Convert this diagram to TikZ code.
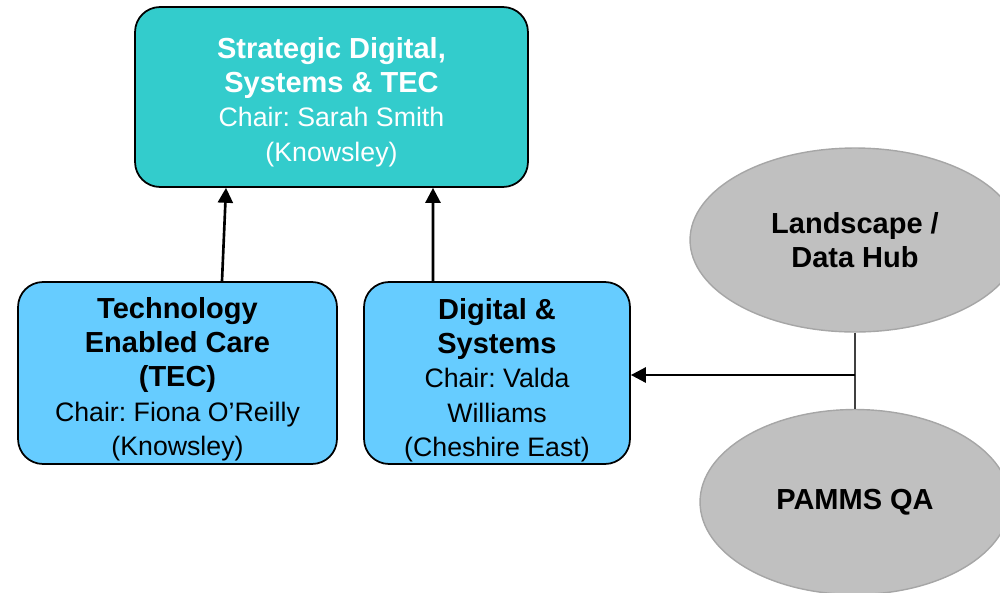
\documentclass[tikz,border=0pt]{standalone}
\usepackage{fontspec}
\setmainfont{Liberation Sans}
\usetikzlibrary{shapes.geometric,arrows.meta}
\definecolor{teal1}{HTML}{33CCCC}
\definecolor{sky1}{HTML}{66CCFF}
\definecolor{grey1}{HTML}{C0C0C0}
\definecolor{grey2}{HTML}{A6A6A6}
\definecolor{grey3}{HTML}{404040}
\newcommand{\bt}[1]{{\fontsize{16.5}{19.5}\selectfont\bfseries #1}}
\tikzset{
  box/.style={draw=black, line width=1pt, rounded corners=0.5cm, inner sep=0pt},
  txt/.style={align=center, inner sep=0pt,
    font=\fontsize{15.2}{19.5}\selectfont\frenchspacing},
  oval/.style={ellipse, draw=grey2, fill=grey1, line width=0.8pt, align=center,
    font=\fontsize{16.5}{19.5}\selectfont\bfseries, inner sep=0pt},
  arr/.style={line width=1.5pt, -{Triangle[length=8.5pt,width=8.5pt]}},
}
\begin{document}
\begin{tikzpicture}[x=0.02cm, y=-0.02cm]
\useasboundingbox (0,0) rectangle (1000,592);
\clip (0,0) rectangle (1000,592);
\node[box, fill=teal1, minimum width=7.86cm, minimum height=3.6cm] (top) at (331.5,97) {};
\node[txt, text=white] (toptext) at ([yshift=-0.1cm]top.center)
  {\bt{Strategic Digital,}\\ \bt{Systems \& TEC}\\ Chair: Sarah Smith\\ (Knowsley)};
\node[box, fill=sky1, minimum width=6.38cm, minimum height=3.64cm] (tec) at (177.5,373) {};
\node[txt] (tectext) at ([yshift=-0.12cm]tec.center)
  {\bt{Technology}\\ \bt{Enabled Care}\\ \bt{(TEC)}\\ Chair: Fiona O’Reilly\\ (Knowsley)};
\node[box, fill=sky1, minimum width=5.32cm, minimum height=3.64cm] (dig) at (497,373) {};
\node[txt] (digtext) at ([yshift=-0.14cm]dig.center)
  {\bt{Digital \&}\\ \bt{Systems}\\ Chair: Valda\\ Williams\\ (Cheshire East)};
\node[oval, minimum width=6.6cm, minimum height=3.68cm] (land) at (855,240) {Landscape /\\ Data Hub};
\node[oval, minimum width=6.2cm, minimum height=3.7cm] (pamms) at (855,502) {PAMMS QA};
\coordinate (j) at (855,375);
\draw[grey3, line width=1.1pt] (land.south) -- (pamms.north);
\draw[arr] (j) -- (j -| dig.east);
\draw[arr] ([xshift=0.89cm]tec.north) -- ([xshift=-2.11cm]top.south);
\draw[arr] ([xshift=-1.28cm]dig.north) -- ([xshift=2.03cm]top.south);
\end{tikzpicture}
\end{document}
